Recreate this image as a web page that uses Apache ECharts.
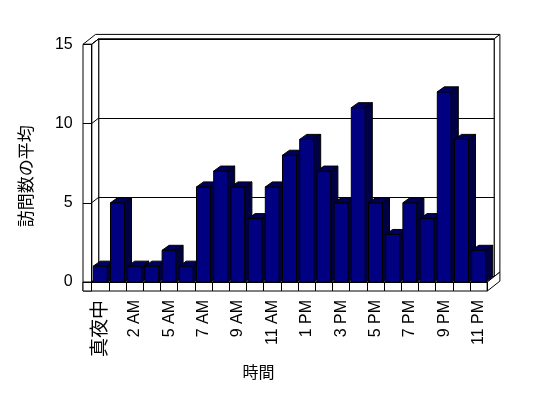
<!DOCTYPE html>
<html>
<head>
<meta charset="utf-8">
<script src="https://cdn.jsdelivr.net/npm/echarts@6/dist/echarts.min.js"></script>
<style>
    html, body {margin: 0; padding: 0; background: #fff;}
    #main {width: 548px; height: 398px;}
</style>
</head>
<body>
<div id="main"></div>
<script>
    // average visits per hour (3D-look column chart)
    var hours = ['真夜中', '1 AM', '2 AM', '3 AM', '5 AM', '6 AM', '7 AM', '8 AM', '9 AM', '10 AM', '11 AM', '12 PM',
        '1 PM', '2 PM', '3 PM', '4 PM', '5 PM', '6 PM', '7 PM', '8 PM', '9 PM', '10 PM', '11 PM'];
    var visits = [1, 5, 1, 1, 2, 1, 6, 7, 6, 4, 6, 8, 9, 7, 5, 11, 5, 3, 5, 4, 12, 9, 2];
    var yTicks = [0, 5, 10, 15];

    var font = "'Liberation Sans', 'Noto Sans CJK JP', sans-serif";
    var DX = 7, DY = -5.5;      // depth of the back wall
    var WALL = 8.7, FLOOR = 9;  // wall / floor thickness
    var BACK = 1.8;             // outer face of back wall, in depth units

    var chart = echarts.init(document.getElementById('main'));

    function line(pts) {
        return {type: 'polygon', shape: {points: pts}, style: {fill: '#fff', stroke: '#000', lineWidth: 1}};
    }

    // walls and floor around the plot
    function renderFrame(params, api) {
        var band = api.size([1, 0])[0];
        var L = api.coord([0, 0])[0] - band / 2;
        var R = api.coord([hours.length - 1, 0])[0] + band / 2;
        var yMax = yTicks[yTicks.length - 1];
        var T = api.coord([0, yMax])[1];
        var B = api.coord([0, 0])[1];
        var ox = DX * BACK, oy = DY * BACK;
        var kids = [
            // top of left wall + back wall
            line([[L - WALL, T], [L, T], [L + DX, T + DY], [R + DX, T + DY], [R + ox, T + oy], [L - WALL + ox, T + oy]]),
            // right side of back wall
            line([[R + DX, T + DY], [R + ox, T + oy], [R + ox, B + oy], [R + DX, B + DY]]),
            // left wall inner face
            line([[L, T], [L + DX, T + DY], [L + DX, B + DY], [L, B]]),
            // left wall front face
            line([[L - WALL, T], [L, T], [L, B + FLOOR], [L - WALL, B + FLOOR]]),
            // floor top
            line([[L, B], [L + DX, B + DY], [R + DX, B + DY], [R, B]]),
            // floor front
            line([[L - WALL, B], [R, B], [R, B + FLOOR], [L - WALL, B + FLOOR]]),
            // floor right side
            line([[R, B], [R + ox, B + oy], [R + ox, B + oy + FLOOR], [R, B + FLOOR]])
        ];
        yTicks.forEach(function (v) {
            var y = api.coord([0, v])[1];
            kids.push({type: 'line', shape: {x1: L, y1: y, x2: L + DX, y2: y + DY}, style: {stroke: '#000', lineWidth: 1}});
        });
        return {type: 'group', children: kids};
    }

    function renderBar(params, api) {
        var i = api.value(0);
        var top = api.coord([i, api.value(1)]);
        var base = api.coord([i, 0]);
        var half = api.size([1, 0])[0] * 0.814 / 2;
        var x0 = top[0] - half, x1 = top[0] + half;
        var yt = top[1], yb = base[1];
        var dx = 7, dy = -5;
        var st = {stroke: '#000', lineWidth: 1};
        return {
            type: 'group',
            children: [
                {type: 'rect', shape: {x: x0, y: yt, width: x1 - x0, height: yb - yt}, style: Object.assign({fill: '#000080'}, st)},
                {type: 'polygon', shape: {points: [[x0, yt], [x1, yt], [x1 + dx, yt + dy], [x0 + dx, yt + dy]]}, style: Object.assign({fill: '#00005c'}, st)},
                {type: 'polygon', shape: {points: [[x1, yt], [x1 + dx, yt + dy], [x1 + dx, yb + dy], [x1, yb]]}, style: Object.assign({fill: '#000044'}, st)}
            ]
        };
    }

    var option = {
        backgroundColor: '#fff',
        animation: false,
        grid: [
            {left: 91.7, right: 60.7, top: 44.3, bottom: 116},
            {left: 98.7, right: 53.7, top: 38.8, bottom: 121.5, show: true, backgroundColor: '#fff', borderColor: '#000', borderWidth: 1}
        ],
        xAxis: [{
            type: 'category',
            gridIndex: 0,
            data: hours,
            z: 5,
            name: '時間',
            nameLocation: 'middle',
            nameGap: 84,
            nameTextStyle: {color: '#000', fontSize: 16, fontFamily: font, padding: [0, 62, 0, 0]},
            axisLine: {lineStyle: {color: '#000', width: 1}},
            axisTick: {show: true, alignWithLabel: false, interval: 0, length: 9, lineStyle: {color: '#000'}},
            axisLabel: {
                interval: 1, rotate: 90, margin: 18, color: '#000', fontSize: 16, fontFamily: font,
                formatter: function (v) {
                    return /[A-Za-z0-9]/.test(v) ? v : '{c|' + v + '}';
                },
                rich: {c: {fontSize: 19, fontFamily: font, color: '#000'}}
            }
        }, {
            type: 'category',
            gridIndex: 1,
            data: hours,
            show: false
        }],
        yAxis: [{
            type: 'value',
            gridIndex: 0,
            min: 0,
            max: yTicks[yTicks.length - 1],
            interval: yTicks[1] - yTicks[0],
            z: 5,
            name: '訪問数の平均',
            nameLocation: 'middle',
            nameRotate: 90,
            nameGap: 56,
            nameTextStyle: {color: '#000', fontSize: 17, fontFamily: font, padding: [0, 26, 0, 0]},
            axisLine: {show: true, lineStyle: {color: '#000', width: 1}},
            axisTick: {show: true, length: 8.7, lineStyle: {color: '#000'}},
            axisLabel: {margin: 19, color: '#000', fontSize: 16, fontFamily: font},
            splitLine: {show: false}
        }, {
            type: 'value',
            gridIndex: 1,
            min: 0,
            max: yTicks[yTicks.length - 1],
            interval: yTicks[1] - yTicks[0],
            axisLine: {show: false},
            axisTick: {show: false},
            axisLabel: {show: false},
            splitLine: {show: true, lineStyle: {color: '#000', width: 1}}
        }],
        series: [{
            type: 'custom',
            name: 'frame',
            xAxisIndex: 0,
            yAxisIndex: 0,
            z: 1,
            silent: true,
            renderItem: renderFrame,
            data: [[0, 0]]
        }, {
            type: 'custom',
            name: '訪問数の平均',
            xAxisIndex: 0,
            yAxisIndex: 0,
            z: 3,
            renderItem: renderBar,
            encode: {x: 0, y: 1},
            data: visits.map(function (v, i) { return [i, v]; })
        }]
    };

    chart.setOption(option);
</script>
</body>
</html>
